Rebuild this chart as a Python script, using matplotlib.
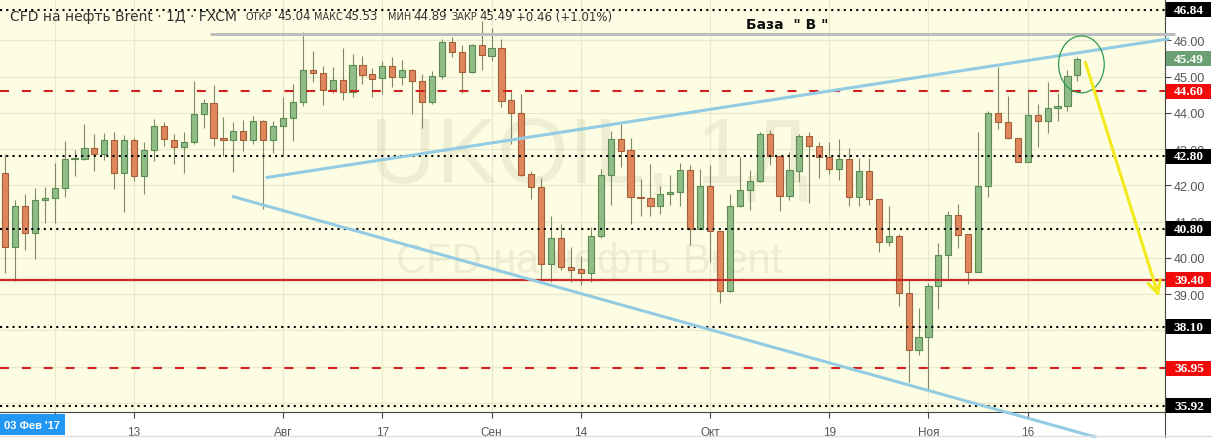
"""
UKOIL daily candles with support/resistance levels (TradingView-style snapshot).
"""

import matplotlib.pyplot as plt
from matplotlib.patches import Rectangle, Ellipse
from matplotlib.lines import Line2D
import numpy as np

# OHLC, one candle per trading day (index 0 .. 108)
opens = [42.34, 40.30, 41.43, 40.68, 41.59, 41.65, 41.92, 42.73, 42.73, 43.02,
         42.86, 43.25, 42.34, 43.25, 42.25, 42.98, 43.63, 43.26, 43.05, 43.19,
         43.96, 44.28, 43.30, 43.24, 43.49, 43.26, 43.77, 43.26, 43.63, 43.85,
         44.31, 45.19, 45.09, 44.64, 44.92, 44.57, 45.32, 45.07, 44.96, 45.29,
         44.98, 45.18, 44.87, 44.29, 45.01, 45.95, 45.67, 45.12, 45.88, 45.58,
         45.78, 44.36, 43.99, 42.32, 41.95, 39.83, 40.54, 39.74, 39.70, 39.58,
         40.60, 42.29, 43.28, 42.98, 41.67, 41.64, 41.43, 41.75, 41.81, 42.43,
         40.80, 41.98, 40.74, 39.10, 41.43, 41.87, 42.13, 43.42, 42.80, 41.70,
         42.41, 43.36, 43.10, 42.78, 42.44, 42.73, 41.67, 42.39, 41.63, 40.43,
         40.61, 39.03, 37.47, 37.81, 39.22, 40.08, 41.19, 40.65, 39.61, 41.98,
         44.00, 43.74, 43.30, 42.66, 43.94, 43.79, 44.13, 44.18, 45.04]
highs = [42.87, 41.60, 41.77, 41.93, 41.97, 42.61, 43.22, 42.99, 43.69, 43.42,
         43.44, 43.47, 43.39, 43.30, 43.19, 43.83, 43.76, 43.42, 43.47, 44.89,
         44.38, 44.77, 43.88, 43.74, 43.81, 43.91, 43.81, 43.77, 44.43, 44.80,
         46.22, 45.72, 45.29, 45.28, 45.79, 45.63, 45.58, 45.23, 45.43, 45.54,
         45.46, 45.21, 45.07, 45.17, 46.04, 46.09, 45.88, 45.90, 46.54, 46.35,
         46.04, 44.57, 44.52, 42.41, 42.21, 41.17, 40.94, 40.29, 40.06, 40.85,
         42.45, 43.49, 43.70, 43.30, 42.18, 42.59, 41.98, 42.29, 42.61, 42.55,
         42.45, 42.55, 40.75, 41.77, 42.79, 42.43, 43.47, 43.53, 42.80, 42.92,
         43.42, 43.47, 43.21, 43.21, 43.28, 43.03, 42.75, 42.75, 41.63, 41.43,
         40.66, 39.42, 38.61, 39.30, 40.41, 41.30, 41.49, 40.66, 43.48, 44.06,
         45.26, 44.46, 43.30, 44.66, 44.25, 44.86, 44.55, 45.19, 45.53]
lows = [39.59, 39.37, 40.23, 39.97, 40.96, 40.97, 41.67, 42.27, 42.71, 42.41,
        42.70, 41.90, 41.28, 42.13, 41.75, 42.67, 43.10, 42.59, 42.34, 43.13,
        43.59, 43.10, 42.82, 42.36, 42.96, 43.13, 41.35, 42.89, 42.85, 43.22,
        44.20, 44.85, 44.23, 44.55, 44.36, 44.45, 44.80, 44.43, 44.52, 44.72,
        44.77, 43.97, 43.58, 44.25, 44.94, 45.54, 44.54, 45.10, 45.19, 45.44,
        44.17, 43.14, 42.27, 41.63, 39.37, 39.33, 39.68, 39.33, 39.26, 39.33,
        40.54, 41.46, 42.50, 40.94, 41.17, 41.17, 41.21, 41.46, 41.44, 40.36,
        40.80, 39.88, 38.76, 39.05, 41.40, 41.32, 42.09, 42.55, 41.30, 41.60,
        42.10, 41.52, 42.21, 42.32, 42.15, 41.42, 41.42, 41.47, 40.17, 40.34,
        38.68, 36.57, 37.32, 36.33, 38.59, 39.39, 40.27, 39.28, 39.61, 41.67,
        43.56, 43.28, 42.64, 42.66, 43.05, 43.44, 43.77, 44.04, 44.89]
closes = [40.30, 41.43, 40.68, 41.60, 41.65, 41.92, 42.73, 42.75, 43.02, 42.86,
          43.25, 42.34, 43.25, 42.25, 42.98, 43.63, 43.28, 43.05, 43.19, 43.97,
          44.28, 43.30, 43.24, 43.49, 43.26, 43.77, 43.26, 43.63, 43.85, 44.31,
          45.19, 45.09, 44.64, 44.92, 44.57, 45.32, 45.05, 44.94, 45.29, 44.98,
          45.18, 44.87, 44.29, 45.01, 45.95, 45.67, 45.12, 45.88, 45.60, 45.78,
          44.34, 43.99, 42.30, 41.95, 39.83, 40.54, 39.74, 39.68, 39.58, 40.60,
          42.29, 43.28, 42.96, 41.67, 41.64, 41.43, 41.75, 41.81, 42.43, 40.80,
          41.98, 40.74, 39.10, 41.43, 41.87, 42.13, 43.42, 42.80, 41.70, 42.43,
          43.36, 43.10, 42.78, 42.44, 42.73, 41.67, 42.39, 41.63, 40.43, 40.61,
          39.03, 37.47, 37.81, 39.22, 40.08, 41.19, 40.62, 39.61, 41.98, 44.00,
          43.74, 43.30, 42.66, 43.94, 43.79, 44.13, 44.18, 45.03, 45.49]

# horizontal levels
dotted_levels = [46.84, 42.80, 40.80, 38.10, 35.92]
dashed_levels = [44.60, 36.95]
solid_level = 39.40
last_price = 45.49

# time axis (candle index of each label)
date_ticks = [5, 13, 28, 38, 49, 58, 71, 83, 93, 103]
date_labels = ['', '13', 'Авг', '17', 'Сен', '14', 'Окт', '19', 'Ноя', '16']
# grid rows; the lowest three labels sit under the level boxes
price_ticks = [36, 37, 38, 39, 40, 41, 42, 43, 44, 45, 46]
price_labels = ['', '', '', '39.00', '40.00', '41.00', '42.00', '43.00', '44.00',
                '45.00', '46.00']

# drawn objects: trend lines, base line, arrow, circle (index, price)
upper_trend = [(26.4, 42.22), (117.1, 46.04)]
lower_trend = [(23.0, 41.69), (109.8, 35.06)]
base_line = [(20.6, 46.18), (117.8, 46.18)]
base_label = (78.8, 46.45)
arrow_from, arrow_to = (108.8, 45.40), (116.2, 38.93)
circle_center, circle_size = (108.4, 45.34), (4.6, 1.57)

W, H = 1212, 439
BG = '#fdfde3'
UP_FILL, UP_EDGE = '#8fbd88', '#5b8a52'
DN_FILL, DN_EDGE = '#e0875b', '#a25f3a'
WICK = '#7d8a63'

fig = plt.figure(figsize=(W / 100, H / 100), dpi=100, facecolor='white')
ax = fig.add_axes([0, 26 / H, 1165 / W, 413 / H], facecolor=BG)
ax.set_xlim(-0.5035, 116.82)
ax.set_ylim(35.75, 47.143)

# grid
ax.set_xticks(date_ticks)
ax.set_xticklabels(date_labels, fontsize=8.5, color='#555555', family='Liberation Sans')
ax.set_yticks(price_ticks)
ax.set_yticklabels(price_labels, fontsize=9, color='#555555', family='Liberation Sans')
ax.yaxis.tick_right()
ax.tick_params(axis='y', length=4, width=0.8, color='#444444', pad=2)
ax.tick_params(axis='x', length=4, width=0.8, color='#444444', pad=6)
ax.grid(True, color='#e9e9cc', linewidth=0.9, zorder=0)
ax.set_axisbelow(True)
for side in ['top', 'left']:
    ax.spines[side].set_visible(False)
ax.spines['bottom'].set_color('#444444')
ax.spines['right'].set_color('#444444')

# watermark
ax.text(0.506, 0.615, 'UKOIL, 1Д', transform=ax.transAxes, ha='center', va='center',
        fontsize=66, color='#c8c8a8', alpha=0.28, family='Liberation Sans', zorder=1)
ax.text(0.506, 0.366, 'CFD на нефть Brent', transform=ax.transAxes, ha='center',
        va='center', fontsize=30, color='#c8c8a8', alpha=0.28, family='Liberation Sans',
        zorder=1)

# candles
idx = np.arange(len(opens))
o, h, l, c = map(np.array, (opens, highs, lows, closes))
up = c >= o
ax.vlines(idx, l, h, color=WICK, linewidth=0.8, zorder=3)
body_bottom = np.minimum(o, c)
body_height = np.maximum(np.abs(c - o), 0.03)
ax.bar(idx[up], body_height[up], bottom=body_bottom[up], width=0.62,
       color=UP_FILL, edgecolor=UP_EDGE, linewidth=0.8, zorder=4)
ax.bar(idx[~up], body_height[~up], bottom=body_bottom[~up], width=0.62,
       color=DN_FILL, edgecolor=DN_EDGE, linewidth=0.8, zorder=4)

# levels
for lv in dotted_levels:
    ax.axhline(lv, color='black', linewidth=1.5, linestyle=(0, (1, 2)), zorder=5)
for lv in dashed_levels:
    ax.axhline(lv, color='#d02020', linewidth=1.5, linestyle=(0, (4.3, 6.2)), zorder=5)
ax.axhline(solid_level, color='#c62828', linewidth=1.6, zorder=5)

# base line and trend lines
ax.plot(*zip(*base_line), color='#bdbdbd', linewidth=2.2, zorder=6, clip_on=False,
        solid_capstyle='butt')
ax.text(*base_label, 'База  " В "', ha='center', va='center', fontsize=10,
        fontweight='bold', color='#111111', family='DejaVu Sans', zorder=7)
ax.plot(*zip(*upper_trend), color='#93cbe3', linewidth=2.2, zorder=6, clip_on=False)
ax.plot(*zip(*lower_trend), color='#93cbe3', linewidth=2.2, zorder=6, clip_on=False)

# circle and arrow
ax.add_patch(Ellipse(circle_center, *circle_size, fill=False, edgecolor='#2e9950',
                     linewidth=0.9, zorder=7))
ax.annotate('', xy=arrow_to, xytext=arrow_from, zorder=7,
            arrowprops=dict(arrowstyle='->,head_length=0.9,head_width=0.45',
                            color='#f2ea1d', linewidth=2.2, shrinkA=0, shrinkB=0))

# price labels on the right axis
yt = ax.get_yaxis_transform()
box_h = 15 / 36.26
labels = ([(lv, 'black') for lv in dotted_levels] +
          [(lv, '#f20a0a') for lv in dashed_levels] +
          [(solid_level, '#f20a0a'), (last_price, '#6b9f74')])
for lv, col in labels:
    ax.add_patch(Rectangle((1.0008, lv - box_h / 2), 0.039, box_h, transform=yt,
                           facecolor=col, edgecolor='none', clip_on=False, zorder=8))
    ax.text(1.0205, lv, f'{lv:.2f}', transform=yt, ha='center', va='center',
            fontsize=9.5, fontweight='bold', color='white', family='Liberation Serif',
            clip_on=False, zorder=9)

# header
fig.text(10 / W, 1 - 17 / H, 'CFD на нефть Brent · 1Д · FXCM', fontsize=10,
         color='#333333', va='center', family='DejaVu Sans')
header = [(245, 'ОТКР', 7), (277, '45.04', 8.5), (314, 'МАКС', 7), (344, '45.53', 8.5),
          (388, 'МИН', 7), (413, '44.89', 8.5), (451, 'ЗАКР', 7), (479, '45.49', 8.5),
          (516, '+0.46 (+1.01%)', 8.5)]
for x, s, fs in header:
    fig.text(x / W, 1 - 17 / H, s, fontsize=fs, color='#333333', va='center',
             family='DejaVu Sans')

# date box at bottom left
fig.patches.append(Rectangle((0, 3 / H), 65 / W, 21 / H, transform=fig.transFigure,
                             facecolor='#2196f3', edgecolor='none'))
fig.text(32 / W, 13 / H, "03 Фев '17", fontsize=8, color='white', ha='center',
         va='center', family='Liberation Sans', fontweight='bold')

# price axis line down to the bottom, bottom frame line
fig.add_artist(Line2D([1165 / W, 1165 / W], [0, 26 / H], color='#444444', linewidth=0.8))
fig.add_artist(Line2D([0, 1], [2 / H, 2 / H], color='#dddddd', linewidth=1))

fig.savefig('out.png', dpi=100, facecolor='white')
